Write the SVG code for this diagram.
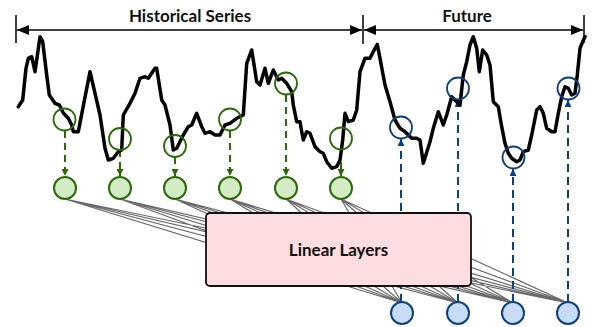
<svg xmlns="http://www.w3.org/2000/svg" width="593" height="327" viewBox="0 0 593 327">
<defs>
<marker id="ab" viewBox="0 0 12 10" refX="12" refY="5" markerWidth="12" markerHeight="10" markerUnits="userSpaceOnUse" orient="auto-start-reverse"><path d="M0,0 L12,5 L0,10 Z" fill="#000"/></marker>
<marker id="ag" viewBox="0 0 8 8" refX="8" refY="4" markerWidth="7" markerHeight="7" markerUnits="userSpaceOnUse" orient="auto"><path d="M0,0 L8,4 L0,8 Z" fill="#2b6a06"/></marker>
<marker id="abl" viewBox="0 0 8 8" refX="8" refY="4" markerWidth="7" markerHeight="7" markerUnits="userSpaceOnUse" orient="auto"><path d="M0,0 L8,4 L0,8 Z" fill="#0e3f7e"/></marker>
</defs>
<style>
.lbl{font-family:Lato,"Open Sans","Liberation Sans",sans-serif;font-weight:bold;fill:#111;text-anchor:middle}
.gl{stroke:#6a6a6a;stroke-width:1.2;fill:none}
.gd{stroke:#2b6a06;stroke-width:2;stroke-dasharray:7,5;fill:none}
.bd{stroke:#0e3f7e;stroke-width:2;stroke-dasharray:8,5;fill:none}
.gc{fill:none;stroke:#2b6a06;stroke-width:1.8}
.bc{fill:none;stroke:#0e3f7e;stroke-width:1.8}
.gn{fill:#d3ecc5;stroke:#2b6a06;stroke-width:2}
.bn{fill:#c7ddf5;stroke:#0e3f7e;stroke-width:2}
.br{stroke:#000;stroke-width:1.5}
</style>

<g id="timeline">
<line class="br" x1="16" y1="15" x2="16" y2="43"/>
<line class="br" x1="363" y1="15" x2="363" y2="44"/>
<line class="br" x1="584" y1="15" x2="584" y2="43"/>
<line class="br" x1="17" y1="30" x2="362" y2="30" marker-start="url(#ab)" marker-end="url(#ab)"/>
<line class="br" x1="364" y1="30" x2="583" y2="30" marker-start="url(#ab)" marker-end="url(#ab)"/>
<text class="lbl" x="190" y="22" font-size="17">Historical Series</text>
<text class="lbl" x="467" y="22" font-size="17">Future</text>
</g>

<g id="connectors">
<g id="weights">
<path class="gl" d="M65,199L402,303M65,199L458,303M65,199L513,303M65,199L568,303
M120,199L402,303M120,199L458,303M120,199L513,303M120,199L568,303
M175,199L402,303M175,199L458,303M175,199L513,303M175,199L568,303
M230,199L402,303M230,199L458,303M230,199L513,303M230,199L568,303
M286,199L402,303M286,199L458,303M286,199L513,303M286,199L568,303
M341,199L402,303M341,199L458,303M341,199L513,303M341,199L568,303"/>
</g>
<line class="gd" x1="65" y1="131" x2="65" y2="176" marker-end="url(#ag)"/>
<line class="gd" x1="120" y1="150" x2="120" y2="176" marker-end="url(#ag)"/>
<line class="gd" x1="175" y1="157" x2="175" y2="176" marker-end="url(#ag)"/>
<line class="gd" x1="230" y1="131" x2="230" y2="176" marker-end="url(#ag)"/>
<line class="gd" x1="286" y1="95" x2="286" y2="176" marker-end="url(#ag)"/>
<line class="gd" x1="341" y1="150" x2="341" y2="176" marker-end="url(#ag)"/>
<line class="bd" x1="401" y1="302" x2="401" y2="139" marker-end="url(#abl)"/>
<line class="bd" x1="458" y1="302" x2="458" y2="100" marker-end="url(#abl)"/>
<line class="bd" x1="513" y1="302" x2="513" y2="169" marker-end="url(#abl)"/>
<line class="bd" x1="568" y1="302" x2="568" y2="100" marker-end="url(#abl)"/>
</g>

<g id="series">
<polyline fill="none" stroke="#000" stroke-width="3.5" stroke-linejoin="round" stroke-linecap="round" points="18.3,106.7 22.7,100 26,68.3 28.3,58.3 31.7,56.7 35,71.7 40,36.7 42.7,41.7 46.7,75 49.3,95 55,103.3 59.3,105 63.3,113 68.3,118.3 71.7,125 73.3,131.7 78.3,131.7 90,71.7 100,115 105,148.3 108.3,160 113.3,158.3 118.3,151.7 121.7,150 123.3,115 130,103.3 135,93.3 140,78.3 145,76.7 148.3,78.3 155,68.3 156.7,68.3 161.7,100 165,105 170,125 173.3,150 176.7,148.3 183.3,135 188.3,126.7 191.7,125 196.7,113.3 201.7,126.7 205,133.3 210,131.7 215,135 220,135 225,125 230,123.3 236.7,118.3 243.3,115 246.7,63.3 251.7,50 256.7,81.7 260,85 265,68.3 268.3,83.3 273.3,70 278.3,80 281.7,78.3 286.7,83.3 291.7,91.7 293.3,105 296.7,121.7 300,121.7 301.7,131.7 303.3,140 306.7,131.7 310,133.3 315,146.7 320,151.7 323.3,153.3 326.7,161.7 331.7,168.3 336.7,166.7 340,160 342.7,140 345,113.3 348.3,121.7 353.3,120 356.7,110 360,71.7 365,58.3 370,58.3 373.3,51.7 377.3,44.3 380,58.3 385,85 390,101.7 395,120 400,128.3 405,131.7 408.3,135 411.7,138.3 416.7,138.3 420,140 423.3,163.3 430,141.7 433.3,128.3 438.3,111.7 443.3,125 446.7,115 451.7,96.7 456.7,101.7 460,105 463.3,75 466.7,61.7 470,45 473.3,36.7 476.7,48.3 479.3,71.7 482.7,50 486.7,55 490,65 493.3,101.7 498.3,106.7 501.7,126.7 505,143.3 508.3,153.3 511.7,158.3 516.7,161.7 520,160 523.3,151.7 528.3,150 531.7,135 536.7,110 540,106.7 543.3,113.3 546.7,128.3 551.7,131.7 555,131.7 558.3,113.3 561.7,96.7 565,86.7 568.3,88.3 571.7,95 575,93.3 577.3,75 580,48.3 582.7,41.7 585,36.7"/>
</g>

<g id="samples">
<circle class="gc" cx="64.5" cy="119.5" r="11"/>
<circle class="gc" cx="120" cy="139" r="11"/>
<circle class="gc" cx="175" cy="146" r="11"/>
<circle class="gc" cx="230" cy="119.5" r="11"/>
<circle class="gc" cx="286" cy="83.5" r="11"/>
<circle class="gc" cx="341" cy="138.5" r="11"/>
<circle class="bc" cx="401" cy="127.5" r="11"/>
<circle class="bc" cx="458" cy="88.5" r="11"/>
<circle class="bc" cx="513.5" cy="157.5" r="11"/>
<circle class="bc" cx="568.5" cy="88.5" r="11"/>
</g>

<g id="in1"><circle class="gn" cx="65" cy="188" r="11"/></g>
<g id="in2"><circle class="gn" cx="120" cy="188" r="11"/></g>
<g id="in3"><circle class="gn" cx="175" cy="188" r="11"/></g>
<g id="in4"><circle class="gn" cx="230" cy="188" r="11"/></g>
<g id="in5"><circle class="gn" cx="286" cy="188" r="11"/></g>
<g id="in6"><circle class="gn" cx="341" cy="188" r="11"/></g>

<g id="linear">
<rect x="206" y="213" width="265" height="73" rx="4" fill="#fddde0" stroke="#111" stroke-width="1.8"/>
<text class="lbl" x="338.5" y="256" font-size="17">Linear Layers</text>
</g>

<g id="out1"><circle class="bn" cx="402" cy="313" r="11"/></g>
<g id="out2"><circle class="bn" cx="458" cy="313" r="11"/></g>
<g id="out3"><circle class="bn" cx="513" cy="313" r="11"/></g>
<g id="out4"><circle class="bn" cx="568" cy="313" r="11"/></g>
</svg>
